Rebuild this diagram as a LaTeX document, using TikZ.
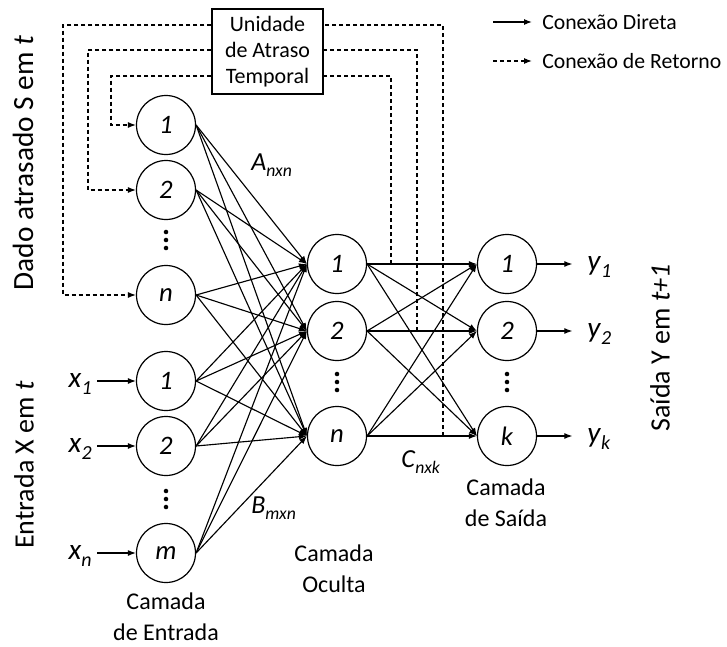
\documentclass[tikz,border=0pt]{standalone}
\usepackage{fontspec}
\setmainfont{Carlito}
\usetikzlibrary{arrows.meta}
\newcommand{\mysub}[2]{\textit{#1}\raisebox{-0.25em}{\scalebox{0.68}{\textit{#2}}}}
\begin{document}
\begin{tikzpicture}[x=0.75pt,y=-0.75pt,
  neuron/.style={circle,draw,line width=0.9pt,minimum size=44.25pt,inner sep=0pt,font=\fontsize{20}{20}\selectfont\itshape},
  conn/.style={line width=0.85pt,-{Latex[length=6pt,width=4.5pt]}},
  fbline/.style={line width=0.85pt,dash pattern=on 3pt off 2.25pt},
  fbarrow/.style={fbline,-{Latex[length=6pt,width=4.5pt]}},
  layerlbl/.style={font=\fontsize{18}{23.25}\selectfont,align=center,inner sep=0pt},
  delaybox/.style={draw,line width=0.9pt,minimum width=83.25pt,minimum height=63.75pt,inner sep=0pt,align=center,font=\fontsize{16.5}{19.5}\selectfont},
  legendtxt/.style={font=\fontsize{16.3}{19}\selectfont,inner sep=0pt},
  sidelbl/.style={font=\fontsize{21}{24}\selectfont,inner sep=0pt,rotate=90},
  iolbl/.style={font=\fontsize{22}{24}\selectfont,inner sep=0pt},
  mlbl/.style={font=\fontsize{19.5}{22}\selectfont,inner sep=0pt},
  vdots/.pic={\fill (0,-8) circle[radius=1.7pt]; \fill (0,0) circle[radius=1.7pt]; \fill (0,8) circle[radius=1.7pt];}
]
\useasboundingbox (0,0) rectangle (727,646);

% input layer
\node[neuron] (i1) at (166,125) {1};
\node[neuron] (i2) at (166,190) {2};
\node[neuron] (in) at (166,295) {n};
\node[neuron] (x1) at (166,381) {1};
\node[neuron] (x2) at (166,446) {2};
\node[neuron] (xm) at (166,553) {m};
% hidden layer
\node[neuron] (h1) at (337,264) {1};
\node[neuron] (h2) at (337,331) {2};
\node[neuron] (hn) at (337,436) {n};
% output layer
\node[neuron] (o1) at (507,264) {1};
\node[neuron] (o2) at (507,331) {2};
\node[neuron] (ok) at (507,436) {k};

\pic at (166,240) {vdots};
\pic at (166,499) {vdots};
\pic at (337,382) {vdots};
\pic at (507,382) {vdots};

% connections
\foreach \s in {i1,i2,in,x1,x2,xm}
  \foreach \t in {h1,h2,hn}
    \draw[conn] (\s.east) -- (\t.west);
\foreach \s in {h1,h2,hn}
  \foreach \t in {o1,o2,ok}
    \draw[conn] (\s.east) -- (\t.west);

% delay unit
\node[delaybox] (delay) at (267.5,51.5) {Unidade\\de Atraso\\Temporal};

\coordinate (f1) at (391,264);
\coordinate (f2) at (417,331);
\coordinate (f3) at (443,436);
\draw[fbline] (f1) -- (391,76) -- (delay.east |- 0,76);
\draw[fbline] (f2) -- (417,50) -- (delay.east |- 0,50);
\draw[fbline] (f3) -- (443,25) -- (delay.east |- 0,25);
\draw[fbarrow] (delay.west |- 0,76) -- (111,76) |- (i1.west);
\draw[fbarrow] (delay.west |- 0,50) -- (88,50) |- (i2.west);
\draw[fbarrow] (delay.west |- 0,25) -- (63,25) |- (in.west);

% inputs
\node[iolbl,anchor=base east] (lx1) at (92,387) {\mysub{x}{1}};
\node[iolbl,anchor=base east] (lx2) at (92,452) {\mysub{x}{2}};
\node[iolbl,anchor=base east] (lxn) at (92,559) {\mysub{x}{n}};
\draw[conn] (lx1.east |- x1.west) ++(5,0) -- (x1.west);
\draw[conn] (lx2.east |- x2.west) ++(5,0) -- (x2.west);
\draw[conn] (lxn.east |- xm.west) ++(5,0) -- (xm.west);

% outputs
\node[iolbl,anchor=base west] (ly1) at (587,270) {\mysub{y}{1}};
\node[iolbl,anchor=base west] (ly2) at (587,337) {\mysub{y}{2}};
\node[iolbl,anchor=base west] (lyk) at (587,442) {\mysub{y}{k}};
\draw[conn,shorten >=11pt] (o1.east) -- (ly1.west |- o1.east);
\draw[conn,shorten >=11pt] (o2.east) -- (ly2.west |- o2.east);
\draw[conn,shorten >=11pt] (ok.east) -- (lyk.west |- ok.east);

% weight labels
\node[mlbl,anchor=base west] (la) at (251,170) {\mysub{A}{nxn}};
\node[mlbl,anchor=base west] (lb) at (251,513) {\mysub{B}{mxn}};
\node[mlbl,anchor=base west] (lc) at (401,467) {\mysub{C}{nxk}};

% layer labels (base = last line)
\node[layerlbl,anchor=base] (le) at (166,640) {Camada\\de Entrada};
\node[layerlbl,anchor=base] (lo) at (334,592) {Camada\\Oculta};
\node[layerlbl,anchor=base] (ls) at (506,526) {Camada\\de Saída};

% side labels
\node[sidelbl,font=\fontsize{22}{25}\selectfont] (sd) at (23,163) {Dado atrasado S em \textit{t}};
\node[sidelbl] (se) at (24,465) {Entrada X em \textit{t}};
\node[sidelbl] (sy) at (660,348) {Saída Y em \textit{t+1}};

% legend
\coordinate (lga) at (493,22);
\coordinate (lgb) at (532,22);
\coordinate (lgc) at (493,61);
\coordinate (lgd) at (532,61);
\draw[conn] (lga) -- (lgb);
\draw[fbarrow] (lgc) -- (lgd);
\node[legendtxt,anchor=west] (lgt1) at (542,22) {Conexão Direta};
\node[legendtxt,anchor=west] (lgt2) at (542,61) {Conexão de Retorno};
\end{tikzpicture}
\end{document}
